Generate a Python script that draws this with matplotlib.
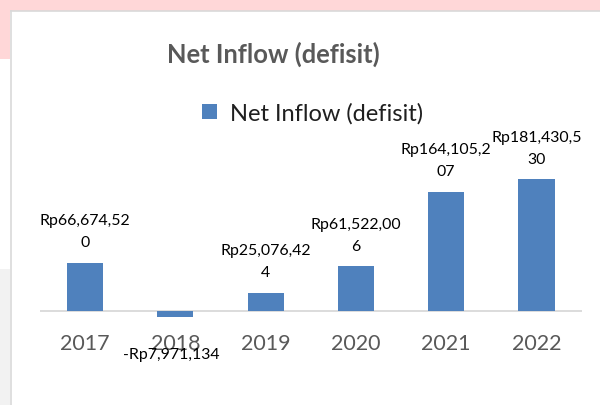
import matplotlib
matplotlib.use("Agg")
import matplotlib.pyplot as plt
from matplotlib.patches import Rectangle
from matplotlib.lines import Line2D

years = ["2017", "2018", "2019", "2020", "2021", "2022"]
net_inflow = [66674520, -7971134, 25076424, 61522006, 164105207, 181430530]
series_name = "Net Inflow (defisit)"

W, H = 600, 406
BAR = "#4f81bd"
GREY_TXT = "#595959"

plt.rcParams["font.family"] = ["Lato", "DejaVu Sans"]

fig = plt.figure(figsize=(W / 100, H / 100), dpi=100)
fig.patch.set_facecolor("white")


def fx(px):
    return px / W


def fy(py):
    # pixel from top -> figure fraction from bottom
    return 1 - py / H


def box(x0, y0, x1, y1, color):
    fig.patches.append(Rectangle((fx(x0), fy(y1)), fx(x1 - x0), (y1 - y0) / H,
                                 transform=fig.transFigure, color=color, lw=0, zorder=0))


# page background around the chart card
box(0, 0, W, 11.5, "#ffd7d8")
box(0, 0, 10, 60, "#ffd7d8")
box(0, 270, 10, H, "#f2f2f2")
fig.lines.append(Line2D([fx(10.5), fx(10.5)], [fy(11.5), 0], transform=fig.transFigure,
                        color="#d9d9d9", lw=1.2))
fig.lines.append(Line2D([fx(10.5), 1], [fy(11.5), fy(11.5)], transform=fig.transFigure,
                        color="#d9d9d9", lw=1.2))

# plot area: baseline at y=312 px, 0.726 px per million
ax = fig.add_axes([fx(39.85), fy(319.26), fx(581.7 - 39.85), (319.26 - 166.8) / H])
ax.set_xlim(-0.5, len(years) - 0.5)
ax.set_ylim(-10e6, 200e6)
ax.axis("off")
ax.axhline(0, color="#d9d9d9", lw=1.3, zorder=1)

x = list(range(len(years)))
bars = ax.bar(x, net_inflow, width=0.4, color=BAR, zorder=2, label=series_name)

for i, (yr, v) in enumerate(zip(years, net_inflow)):
    ax.annotate(yr, (i, 0), xytext=(0, -38), textcoords="offset pixels",
                ha="center", va="baseline", fontsize=15.5, color=GREY_TXT)
    if v >= 0:
        s = f"Rp{v:,}"
        ax.annotate(s[11:], (i, v), xytext=(0, 16.5), textcoords="offset pixels",
                    ha="center", va="baseline", fontsize=11.4, color="black")
        ax.annotate(s[:11], (i, v), xytext=(0, 38.5), textcoords="offset pixels",
                    ha="center", va="baseline", fontsize=11.4, color="black")
    else:
        s = f"-Rp{-v:,}"
        ax.annotate(s, (i, v), xytext=(-4, -41), textcoords="offset pixels",
                    ha="center", va="baseline", fontsize=11.4, color="black")

fig.text(fx(273.5), fy(62.3), series_name, ha="center", va="baseline",
         fontsize=18.4, fontweight="bold", color=GREY_TXT)

fig.legend(handles=[bars], labels=[series_name], loc="center",
           bbox_to_anchor=(fx(312.5), fy(114)), frameon=False, fontsize=17,
           handlelength=0.635, handleheight=0.635, handletextpad=0.57,
           borderpad=0, labelcolor="#1f1f1f")

fig.savefig("out.png", dpi=100)
